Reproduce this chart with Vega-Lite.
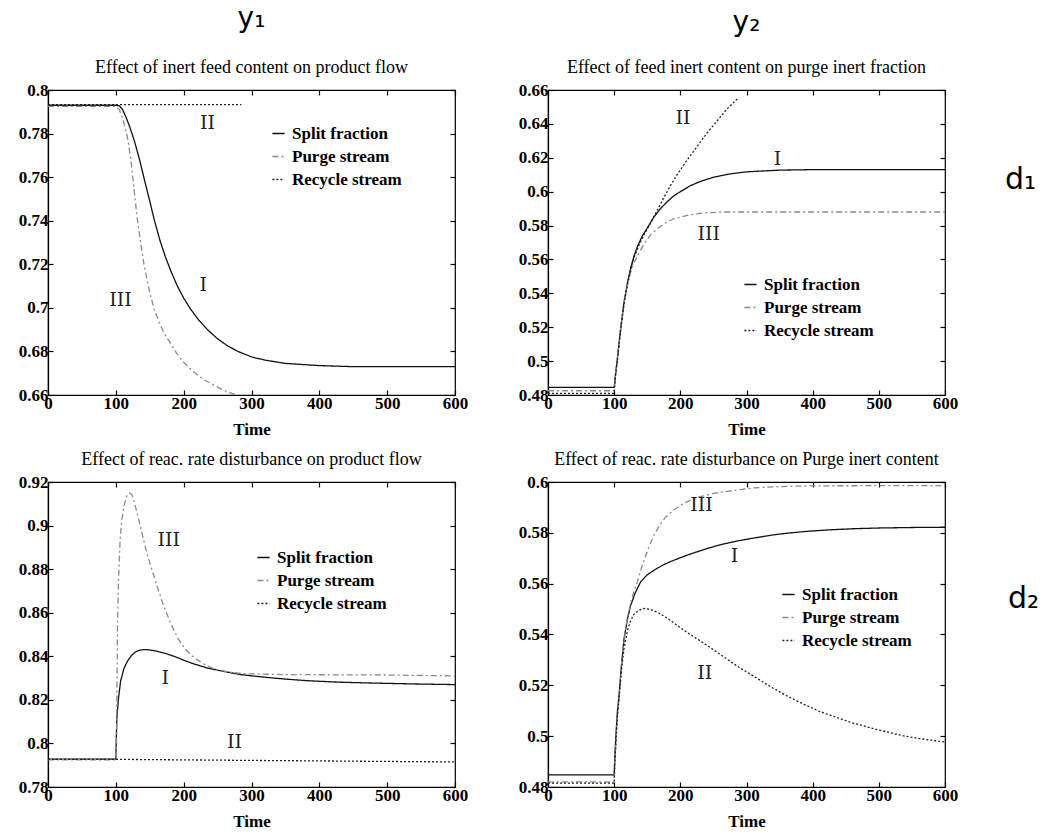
{
  "$schema": "https://vega.github.io/schema/vega-lite/v6.json",
  "background": "white",
  "padding": {"left": 17, "top": 4, "right": 5, "bottom": 5},
  "datasets": {
    "curves": [
      {"panel":"a","series":"Split fraction","t":0,"v":0.793},{"panel":"a","series":"Split fraction","t":100,"v":0.793},{"panel":"a","series":"Split fraction","t":105,"v":0.7928},{"panel":"a","series":"Split fraction","t":110,"v":0.791},{"panel":"a","series":"Split fraction","t":115,"v":0.7875},{"panel":"a","series":"Split fraction","t":120,"v":0.7835},{"panel":"a","series":"Split fraction","t":127,"v":0.777},{"panel":"a","series":"Split fraction","t":135,"v":0.768},{"panel":"a","series":"Split fraction","t":142,"v":0.759},{"panel":"a","series":"Split fraction","t":150,"v":0.749},{"panel":"a","series":"Split fraction","t":157,"v":0.74},{"panel":"a","series":"Split fraction","t":165,"v":0.731},{"panel":"a","series":"Split fraction","t":173,"v":0.7235},{"panel":"a","series":"Split fraction","t":181,"v":0.717},{"panel":"a","series":"Split fraction","t":190,"v":0.7105},{"panel":"a","series":"Split fraction","t":200,"v":0.7045},{"panel":"a","series":"Split fraction","t":210,"v":0.6995},{"panel":"a","series":"Split fraction","t":222,"v":0.6945},{"panel":"a","series":"Split fraction","t":235,"v":0.69},{"panel":"a","series":"Split fraction","t":250,"v":0.6858},{"panel":"a","series":"Split fraction","t":265,"v":0.6825},{"panel":"a","series":"Split fraction","t":280,"v":0.68},{"panel":"a","series":"Split fraction","t":300,"v":0.6775},{"panel":"a","series":"Split fraction","t":320,"v":0.676},{"panel":"a","series":"Split fraction","t":350,"v":0.6745},{"panel":"a","series":"Split fraction","t":400,"v":0.6735},{"panel":"a","series":"Split fraction","t":450,"v":0.673},{"panel":"a","series":"Split fraction","t":600,"v":0.673},
      {"panel":"a","series":"Purge stream","t":0,"v":0.7925},{"panel":"a","series":"Purge stream","t":100,"v":0.7925},{"panel":"a","series":"Purge stream","t":105,"v":0.791},{"panel":"a","series":"Purge stream","t":110,"v":0.787},{"panel":"a","series":"Purge stream","t":115,"v":0.781},{"panel":"a","series":"Purge stream","t":118,"v":0.777},{"panel":"a","series":"Purge stream","t":122,"v":0.768},{"panel":"a","series":"Purge stream","t":125,"v":0.76},{"panel":"a","series":"Purge stream","t":128,"v":0.751},{"panel":"a","series":"Purge stream","t":132,"v":0.74},{"panel":"a","series":"Purge stream","t":137,"v":0.729},{"panel":"a","series":"Purge stream","t":142,"v":0.719},{"panel":"a","series":"Purge stream","t":150,"v":0.707},{"panel":"a","series":"Purge stream","t":157,"v":0.699},{"panel":"a","series":"Purge stream","t":165,"v":0.6925},{"panel":"a","series":"Purge stream","t":172,"v":0.688},{"panel":"a","series":"Purge stream","t":180,"v":0.684},{"panel":"a","series":"Purge stream","t":190,"v":0.679},{"panel":"a","series":"Purge stream","t":200,"v":0.675},{"panel":"a","series":"Purge stream","t":215,"v":0.6705},{"panel":"a","series":"Purge stream","t":230,"v":0.667},{"panel":"a","series":"Purge stream","t":245,"v":0.6645},{"panel":"a","series":"Purge stream","t":260,"v":0.662},{"panel":"a","series":"Purge stream","t":275,"v":0.6603},{"panel":"a","series":"Purge stream","t":290,"v":0.659},{"panel":"a","series":"Purge stream","t":310,"v":0.658},
      {"panel":"a","series":"Recycle stream","t":0,"v":0.7933},{"panel":"a","series":"Recycle stream","t":285,"v":0.7933},
      {"panel":"b","series":"Split fraction","t":0,"v":0.4845},{"panel":"b","series":"Split fraction","t":100,"v":0.4845},{"panel":"b","series":"Split fraction","t":102,"v":0.492},{"panel":"b","series":"Split fraction","t":105,"v":0.502},{"panel":"b","series":"Split fraction","t":110,"v":0.52},{"panel":"b","series":"Split fraction","t":115,"v":0.535},{"panel":"b","series":"Split fraction","t":120,"v":0.546},{"panel":"b","series":"Split fraction","t":125,"v":0.555},{"panel":"b","series":"Split fraction","t":130,"v":0.562},{"panel":"b","series":"Split fraction","t":135,"v":0.5675},{"panel":"b","series":"Split fraction","t":142,"v":0.5735},{"panel":"b","series":"Split fraction","t":150,"v":0.5785},{"panel":"b","series":"Split fraction","t":160,"v":0.585},{"panel":"b","series":"Split fraction","t":170,"v":0.59},{"panel":"b","series":"Split fraction","t":180,"v":0.594},{"panel":"b","series":"Split fraction","t":190,"v":0.5975},{"panel":"b","series":"Split fraction","t":200,"v":0.6},{"panel":"b","series":"Split fraction","t":215,"v":0.6035},{"panel":"b","series":"Split fraction","t":230,"v":0.606},{"panel":"b","series":"Split fraction","t":250,"v":0.6085},{"panel":"b","series":"Split fraction","t":275,"v":0.6105},{"panel":"b","series":"Split fraction","t":300,"v":0.6117},{"panel":"b","series":"Split fraction","t":350,"v":0.6127},{"panel":"b","series":"Split fraction","t":400,"v":0.613},{"panel":"b","series":"Split fraction","t":600,"v":0.613},
      {"panel":"b","series":"Purge stream","t":0,"v":0.4825},{"panel":"b","series":"Purge stream","t":100,"v":0.4825},{"panel":"b","series":"Purge stream","t":102,"v":0.492},{"panel":"b","series":"Purge stream","t":105,"v":0.502},{"panel":"b","series":"Purge stream","t":110,"v":0.52},{"panel":"b","series":"Purge stream","t":115,"v":0.535},{"panel":"b","series":"Purge stream","t":120,"v":0.545},{"panel":"b","series":"Purge stream","t":125,"v":0.5525},{"panel":"b","series":"Purge stream","t":130,"v":0.558},{"panel":"b","series":"Purge stream","t":137,"v":0.5635},{"panel":"b","series":"Purge stream","t":145,"v":0.569},{"panel":"b","series":"Purge stream","t":155,"v":0.5745},{"panel":"b","series":"Purge stream","t":165,"v":0.578},{"panel":"b","series":"Purge stream","t":175,"v":0.581},{"panel":"b","series":"Purge stream","t":190,"v":0.584},{"panel":"b","series":"Purge stream","t":210,"v":0.586},{"panel":"b","series":"Purge stream","t":235,"v":0.5875},{"panel":"b","series":"Purge stream","t":270,"v":0.588},{"panel":"b","series":"Purge stream","t":600,"v":0.588},
      {"panel":"b","series":"Recycle stream","t":0,"v":0.481},{"panel":"b","series":"Recycle stream","t":100,"v":0.481},{"panel":"b","series":"Recycle stream","t":102,"v":0.491},{"panel":"b","series":"Recycle stream","t":105,"v":0.501},{"panel":"b","series":"Recycle stream","t":110,"v":0.519},{"panel":"b","series":"Recycle stream","t":115,"v":0.534},{"panel":"b","series":"Recycle stream","t":120,"v":0.545},{"panel":"b","series":"Recycle stream","t":125,"v":0.554},{"panel":"b","series":"Recycle stream","t":130,"v":0.561},{"panel":"b","series":"Recycle stream","t":137,"v":0.568},{"panel":"b","series":"Recycle stream","t":145,"v":0.5745},{"panel":"b","series":"Recycle stream","t":155,"v":0.5815},{"panel":"b","series":"Recycle stream","t":165,"v":0.589},{"panel":"b","series":"Recycle stream","t":175,"v":0.5965},{"panel":"b","series":"Recycle stream","t":185,"v":0.6035},{"panel":"b","series":"Recycle stream","t":195,"v":0.61},{"panel":"b","series":"Recycle stream","t":210,"v":0.6185},{"panel":"b","series":"Recycle stream","t":225,"v":0.6265},{"panel":"b","series":"Recycle stream","t":240,"v":0.6345},{"panel":"b","series":"Recycle stream","t":255,"v":0.6415},{"panel":"b","series":"Recycle stream","t":270,"v":0.6485},{"panel":"b","series":"Recycle stream","t":288,"v":0.6555},
      {"panel":"c","series":"Split fraction","t":0,"v":0.7928},{"panel":"c","series":"Split fraction","t":100,"v":0.7928},{"panel":"c","series":"Split fraction","t":100.5,"v":0.8},{"panel":"c","series":"Split fraction","t":101.5,"v":0.8116},{"panel":"c","series":"Split fraction","t":104,"v":0.821},{"panel":"c","series":"Split fraction","t":107,"v":0.8285},{"panel":"c","series":"Split fraction","t":112,"v":0.8345},{"panel":"c","series":"Split fraction","t":117,"v":0.8377},{"panel":"c","series":"Split fraction","t":123,"v":0.8403},{"panel":"c","series":"Split fraction","t":129,"v":0.842},{"panel":"c","series":"Split fraction","t":135,"v":0.8428},{"panel":"c","series":"Split fraction","t":142,"v":0.8431},{"panel":"c","series":"Split fraction","t":150,"v":0.8429},{"panel":"c","series":"Split fraction","t":161,"v":0.8423},{"panel":"c","series":"Split fraction","t":173,"v":0.8413},{"panel":"c","series":"Split fraction","t":186,"v":0.84},{"panel":"c","series":"Split fraction","t":200,"v":0.8382},{"panel":"c","series":"Split fraction","t":215,"v":0.8365},{"panel":"c","series":"Split fraction","t":235,"v":0.8346},{"panel":"c","series":"Split fraction","t":260,"v":0.833},{"panel":"c","series":"Split fraction","t":284,"v":0.8316},{"panel":"c","series":"Split fraction","t":310,"v":0.8307},{"panel":"c","series":"Split fraction","t":333,"v":0.83},{"panel":"c","series":"Split fraction","t":360,"v":0.8293},{"panel":"c","series":"Split fraction","t":382,"v":0.8288},{"panel":"c","series":"Split fraction","t":430,"v":0.8281},{"panel":"c","series":"Split fraction","t":480,"v":0.8277},{"panel":"c","series":"Split fraction","t":540,"v":0.8273},{"panel":"c","series":"Split fraction","t":600,"v":0.827},
      {"panel":"c","series":"Purge stream","t":0,"v":0.7925},{"panel":"c","series":"Purge stream","t":100,"v":0.7925},{"panel":"c","series":"Purge stream","t":101,"v":0.8},{"panel":"c","series":"Purge stream","t":102.5,"v":0.8555},{"panel":"c","series":"Purge stream","t":104,"v":0.876},{"panel":"c","series":"Purge stream","t":106.4,"v":0.894},{"panel":"c","series":"Purge stream","t":109,"v":0.903},{"panel":"c","series":"Purge stream","t":112,"v":0.909},{"panel":"c","series":"Purge stream","t":116,"v":0.9135},{"panel":"c","series":"Purge stream","t":120,"v":0.915},{"panel":"c","series":"Purge stream","t":124,"v":0.914},{"panel":"c","series":"Purge stream","t":127,"v":0.911},{"panel":"c","series":"Purge stream","t":132,"v":0.905},{"panel":"c","series":"Purge stream","t":137,"v":0.8985},{"panel":"c","series":"Purge stream","t":142,"v":0.892},{"panel":"c","series":"Purge stream","t":147,"v":0.886},{"panel":"c","series":"Purge stream","t":154,"v":0.879},{"panel":"c","series":"Purge stream","t":161,"v":0.872},{"panel":"c","series":"Purge stream","t":170,"v":0.8635},{"panel":"c","series":"Purge stream","t":181,"v":0.855},{"panel":"c","series":"Purge stream","t":192,"v":0.848},{"panel":"c","series":"Purge stream","t":202,"v":0.8435},{"panel":"c","series":"Purge stream","t":211,"v":0.8405},{"panel":"c","series":"Purge stream","t":222,"v":0.838},{"panel":"c","series":"Purge stream","t":235,"v":0.8355},{"panel":"c","series":"Purge stream","t":250,"v":0.8338},{"panel":"c","series":"Purge stream","t":270,"v":0.8326},{"panel":"c","series":"Purge stream","t":290,"v":0.832},{"panel":"c","series":"Purge stream","t":350,"v":0.8316},{"panel":"c","series":"Purge stream","t":500,"v":0.8314},{"panel":"c","series":"Purge stream","t":600,"v":0.831},
      {"panel":"c","series":"Recycle stream","t":0,"v":0.7927},{"panel":"c","series":"Recycle stream","t":100,"v":0.7927},{"panel":"c","series":"Recycle stream","t":300,"v":0.7922},{"panel":"c","series":"Recycle stream","t":600,"v":0.7915},
      {"panel":"d","series":"Split fraction","t":0,"v":0.4848},{"panel":"d","series":"Split fraction","t":100,"v":0.4848},{"panel":"d","series":"Split fraction","t":101,"v":0.492},{"panel":"d","series":"Split fraction","t":103,"v":0.502},{"panel":"d","series":"Split fraction","t":105,"v":0.51},{"panel":"d","series":"Split fraction","t":107.5,"v":0.5164},{"panel":"d","series":"Split fraction","t":111,"v":0.528},{"panel":"d","series":"Split fraction","t":115,"v":0.5385},{"panel":"d","series":"Split fraction","t":120,"v":0.546},{"panel":"d","series":"Split fraction","t":125,"v":0.5515},{"panel":"d","series":"Split fraction","t":132,"v":0.5565},{"panel":"d","series":"Split fraction","t":140,"v":0.5607},{"panel":"d","series":"Split fraction","t":150,"v":0.5635},{"panel":"d","series":"Split fraction","t":164,"v":0.5659},{"panel":"d","series":"Split fraction","t":175,"v":0.5675},{"panel":"d","series":"Split fraction","t":189,"v":0.5691},{"panel":"d","series":"Split fraction","t":210,"v":0.5712},{"panel":"d","series":"Split fraction","t":239,"v":0.5737},{"panel":"d","series":"Split fraction","t":260,"v":0.5753},{"panel":"d","series":"Split fraction","t":288,"v":0.5769},{"panel":"d","series":"Split fraction","t":310,"v":0.5779},{"panel":"d","series":"Split fraction","t":338,"v":0.5791},{"panel":"d","series":"Split fraction","t":360,"v":0.5798},{"panel":"d","series":"Split fraction","t":387,"v":0.5805},{"panel":"d","series":"Split fraction","t":420,"v":0.5811},{"panel":"d","series":"Split fraction","t":460,"v":0.5816},{"panel":"d","series":"Split fraction","t":500,"v":0.5819},{"panel":"d","series":"Split fraction","t":550,"v":0.5821},{"panel":"d","series":"Split fraction","t":600,"v":0.5822},
      {"panel":"d","series":"Purge stream","t":0,"v":0.482},{"panel":"d","series":"Purge stream","t":100,"v":0.482},{"panel":"d","series":"Purge stream","t":101,"v":0.49},{"panel":"d","series":"Purge stream","t":103,"v":0.5},{"panel":"d","series":"Purge stream","t":105,"v":0.509},{"panel":"d","series":"Purge stream","t":107.5,"v":0.516},{"panel":"d","series":"Purge stream","t":111,"v":0.528},{"panel":"d","series":"Purge stream","t":115,"v":0.538},{"panel":"d","series":"Purge stream","t":120,"v":0.5465},{"panel":"d","series":"Purge stream","t":125,"v":0.5525},{"panel":"d","series":"Purge stream","t":130,"v":0.557},{"panel":"d","series":"Purge stream","t":135,"v":0.5607},{"panel":"d","series":"Purge stream","t":141,"v":0.566},{"panel":"d","series":"Purge stream","t":147,"v":0.5705},{"panel":"d","series":"Purge stream","t":154,"v":0.5755},{"panel":"d","series":"Purge stream","t":162,"v":0.58},{"panel":"d","series":"Purge stream","t":170,"v":0.5835},{"panel":"d","series":"Purge stream","t":177,"v":0.586},{"panel":"d","series":"Purge stream","t":190,"v":0.589},{"panel":"d","series":"Purge stream","t":200,"v":0.5908},{"panel":"d","series":"Purge stream","t":212,"v":0.5925},{"panel":"d","series":"Purge stream","t":230,"v":0.5942},{"panel":"d","series":"Purge stream","t":250,"v":0.5955},{"panel":"d","series":"Purge stream","t":262,"v":0.596},{"panel":"d","series":"Purge stream","t":290,"v":0.597},{"panel":"d","series":"Purge stream","t":312,"v":0.5977},{"panel":"d","series":"Purge stream","t":350,"v":0.5982},{"panel":"d","series":"Purge stream","t":400,"v":0.5985},{"panel":"d","series":"Purge stream","t":600,"v":0.5986},
      {"panel":"d","series":"Recycle stream","t":0,"v":0.4815},{"panel":"d","series":"Recycle stream","t":100,"v":0.4815},{"panel":"d","series":"Recycle stream","t":101,"v":0.489},{"panel":"d","series":"Recycle stream","t":103,"v":0.499},{"panel":"d","series":"Recycle stream","t":105,"v":0.508},{"panel":"d","series":"Recycle stream","t":107.5,"v":0.515},{"panel":"d","series":"Recycle stream","t":111,"v":0.526},{"panel":"d","series":"Recycle stream","t":115,"v":0.5345},{"panel":"d","series":"Recycle stream","t":120,"v":0.5415},{"panel":"d","series":"Recycle stream","t":125,"v":0.5455},{"panel":"d","series":"Recycle stream","t":130,"v":0.548},{"panel":"d","series":"Recycle stream","t":137,"v":0.5495},{"panel":"d","series":"Recycle stream","t":146,"v":0.5503},{"panel":"d","series":"Recycle stream","t":155,"v":0.5498},{"panel":"d","series":"Recycle stream","t":165,"v":0.5488},{"panel":"d","series":"Recycle stream","t":177,"v":0.547},{"panel":"d","series":"Recycle stream","t":189,"v":0.5448},{"panel":"d","series":"Recycle stream","t":210,"v":0.5408},{"panel":"d","series":"Recycle stream","t":239,"v":0.536},{"panel":"d","series":"Recycle stream","t":260,"v":0.5322},{"panel":"d","series":"Recycle stream","t":288,"v":0.5272},{"panel":"d","series":"Recycle stream","t":310,"v":0.5237},{"panel":"d","series":"Recycle stream","t":338,"v":0.5192},{"panel":"d","series":"Recycle stream","t":360,"v":0.516},{"panel":"d","series":"Recycle stream","t":387,"v":0.5125},{"panel":"d","series":"Recycle stream","t":410,"v":0.5098},{"panel":"d","series":"Recycle stream","t":437,"v":0.5073},{"panel":"d","series":"Recycle stream","t":460,"v":0.5052},{"panel":"d","series":"Recycle stream","t":486,"v":0.5034},{"panel":"d","series":"Recycle stream","t":510,"v":0.5018},{"panel":"d","series":"Recycle stream","t":536,"v":0.5002},{"panel":"d","series":"Recycle stream","t":560,"v":0.4991},{"panel":"d","series":"Recycle stream","t":585,"v":0.4982},{"panel":"d","series":"Recycle stream","t":600,"v":0.4977}
    ],
    "notes": [
      {"panel":"a","label":"II","t":235,"v":0.785},{"panel":"a","label":"I","t":229,"v":0.7105},{"panel":"a","label":"III","t":107,"v":0.7037},
      {"panel":"b","label":"II","t":204,"v":0.6435},{"panel":"b","label":"I","t":347,"v":0.619},{"panel":"b","label":"III","t":243,"v":0.575},
      {"panel":"c","label":"III","t":178,"v":0.8934},{"panel":"c","label":"I","t":173,"v":0.83},{"panel":"c","label":"II","t":275,"v":0.8005},
      {"panel":"d","label":"III","t":232,"v":0.5909},{"panel":"d","label":"I","t":282,"v":0.5707},{"panel":"d","label":"II","t":237,"v":0.5248}
    ]
  },
  "config": {
    "font": "Liberation Serif",
    "view": {"stroke": "black", "strokeWidth": 1.2},
    "axis": {
      "grid": false,
      "labelFont": "Liberation Serif", "labelFontSize": 17, "labelFontWeight": "bold", "labelColor": "black",
      "labelFlush": false, "labelOverlap": false, "labelPadding": 5,
      "tickColor": "black", "tickSize": -5, "tickWidth": 1.2,
      "domainColor": "black", "domainWidth": 1.2,
      "titleFont": "Liberation Serif", "titleFontSize": 17, "titleFontWeight": "bold", "titleColor": "black", "titlePadding": 10
    },
    "legend": {
      "title": null, "orient": "none", "padding": 0,
      "labelFont": "Liberation Serif", "labelFontSize": 17, "labelFontWeight": "bold", "labelColor": "black",
      "symbolType": "stroke", "symbolSize": 150, "symbolStrokeWidth": 1.4, "rowPadding": 5, "labelOffset": 5
    },
    "title": {"color": "black", "subtitleColor": "black", "anchor": "middle", "offset": 4}
  },
  "resolve": {"scale": {"color": "independent", "strokeDash": "independent"}, "legend": {"color": "independent", "strokeDash": "independent"}},
  "spacing": 12,
  "vconcat": [
    {
      "resolve": {"scale": {"color": "independent", "strokeDash": "independent"}, "legend": {"color": "independent", "strokeDash": "independent"}},
      "spacing": 48,
      "hconcat": [
        {
          "width": 407, "height": 305,
          "title": {"text": "y₁", "subtitle": "Effect of inert feed content on product flow", "font": "DejaVu Sans", "fontSize": 28, "fontWeight": "normal", "subtitleFont": "Liberation Serif", "subtitleFontSize": 18, "subtitlePadding": 26},
          "layer": [
            {
              "data": {"name": "curves"},
              "transform": [{"filter": "datum.panel === 'a'"}],
              "mark": {"type": "line", "clip": true, "strokeWidth": 1.3},
              "encoding": {
                "x": {"field": "t", "type": "quantitative", "scale": {"domain": [0, 600], "nice": false}, "axis": {"orient": "bottom", "title": "Time", "values": [0,100,200,300,400,500,600]}},
                "y": {"field": "v", "type": "quantitative", "scale": {"domain": [0.66, 0.8], "nice": false, "zero": false}, "axis": {"orient": "left", "title": null, "format": ".2~f", "values": [0.66,0.68,0.7,0.72,0.74,0.76,0.78,0.8]}},
                "color": {"field": "series", "type": "nominal", "scale": {"domain": ["Split fraction","Purge stream","Recycle stream"], "range": ["#111111","#8a8a8a","#222222"]}, "legend": {"legendX": 222, "legendY": 35}},
                "strokeDash": {"field": "series", "type": "nominal", "scale": {"domain": ["Split fraction","Purge stream","Recycle stream"], "range": [[1,0],[6,3,2,3],[2,2]]}, "legend": {"legendX": 222, "legendY": 35}}
              }
            },
            {
              "data": {"name": "notes"},
              "transform": [{"filter": "datum.panel === 'a'"}],
              "mark": {"type": "text", "font": "DejaVu Serif", "fontSize": 19, "color": "#222"},
              "encoding": {
                "x": {"field": "t", "type": "quantitative", "scale": {"domain": [0, 600], "nice": false}, "axis": {"orient": "top", "title": null, "labels": false, "domain": false, "values": [0,100,200,300,400,500,600]}},
                "y": {"field": "v", "type": "quantitative", "scale": {"domain": [0.66, 0.8], "nice": false, "zero": false}, "axis": {"orient": "right", "title": null, "labels": false, "domain": false, "values": [0.66,0.68,0.7,0.72,0.74,0.76,0.78,0.8]}},
                "text": {"field": "label", "type": "nominal"}
              }
            }
          ]
        },
        {
          "width": 397, "height": 305,
          "title": {"text": "y₂", "subtitle": "Effect of feed inert content on purge inert fraction", "font": "DejaVu Sans", "fontSize": 28, "fontWeight": "normal", "subtitleFont": "Liberation Serif", "subtitleFontSize": 18, "subtitlePadding": 22},
          "layer": [
            {
              "data": {"name": "curves"},
              "transform": [{"filter": "datum.panel === 'b'"}],
              "mark": {"type": "line", "clip": true, "strokeWidth": 1.3},
              "encoding": {
                "x": {"field": "t", "type": "quantitative", "scale": {"domain": [0, 600], "nice": false}, "axis": {"orient": "bottom", "title": "Time", "values": [0,100,200,300,400,500,600]}},
                "y": {"field": "v", "type": "quantitative", "scale": {"domain": [0.48, 0.66], "nice": false, "zero": false}, "axis": {"orient": "left", "title": null, "format": ".2~f", "values": [0.48,0.5,0.52,0.54,0.56,0.58,0.6,0.62,0.64,0.66]}},
                "color": {"field": "series", "type": "nominal", "scale": {"domain": ["Split fraction","Purge stream","Recycle stream"], "range": ["#111111","#8a8a8a","#222222"]}, "legend": {"legendX": 194, "legendY": 186}},
                "strokeDash": {"field": "series", "type": "nominal", "scale": {"domain": ["Split fraction","Purge stream","Recycle stream"], "range": [[1,0],[6,3,2,3],[2,2]]}, "legend": {"legendX": 194, "legendY": 186}}
              }
            },
            {
              "data": {"name": "notes"},
              "transform": [{"filter": "datum.panel === 'b'"}],
              "mark": {"type": "text", "font": "DejaVu Serif", "fontSize": 19, "color": "#222"},
              "encoding": {
                "x": {"field": "t", "type": "quantitative", "scale": {"domain": [0, 600], "nice": false}, "axis": {"orient": "top", "title": null, "labels": false, "domain": false, "values": [0,100,200,300,400,500,600]}},
                "y": {"field": "v", "type": "quantitative", "scale": {"domain": [0.48, 0.66], "nice": false, "zero": false}, "axis": {"orient": "right", "labels": false, "domain": false, "values": [0.48,0.5,0.52,0.54,0.56,0.58,0.6,0.62,0.64,0.66], "title": "d₁", "titleAngle": 0, "titleFont": "DejaVu Sans", "titleFontSize": 30, "titleFontWeight": "normal", "titleAlign": "center", "titleBaseline": "middle", "titleX": 75, "titleY": 89}},
                "text": {"field": "label", "type": "nominal"}
              }
            }
          ]
        }
      ]
    },
    {
      "resolve": {"scale": {"color": "independent", "strokeDash": "independent"}, "legend": {"color": "independent", "strokeDash": "independent"}},
      "spacing": 48,
      "hconcat": [
        {
          "width": 407, "height": 305,
          "title": {"text": "Effect of reac. rate disturbance on product flow", "font": "Liberation Serif", "fontSize": 18, "fontWeight": "normal"},
          "layer": [
            {
              "data": {"name": "curves"},
              "transform": [{"filter": "datum.panel === 'c'"}],
              "mark": {"type": "line", "clip": true, "strokeWidth": 1.3},
              "encoding": {
                "x": {"field": "t", "type": "quantitative", "scale": {"domain": [0, 600], "nice": false}, "axis": {"orient": "bottom", "title": "Time", "values": [0,100,200,300,400,500,600]}},
                "y": {"field": "v", "type": "quantitative", "scale": {"domain": [0.78, 0.92], "nice": false, "zero": false}, "axis": {"orient": "left", "title": null, "format": ".2~f", "values": [0.78,0.8,0.82,0.84,0.86,0.88,0.9,0.92]}},
                "color": {"field": "series", "type": "nominal", "scale": {"domain": ["Split fraction","Purge stream","Recycle stream"], "range": ["#111111","#8a8a8a","#222222"]}, "legend": {"legendX": 207, "legendY": 67}},
                "strokeDash": {"field": "series", "type": "nominal", "scale": {"domain": ["Split fraction","Purge stream","Recycle stream"], "range": [[1,0],[6,3,2,3],[2,2]]}, "legend": {"legendX": 207, "legendY": 67}}
              }
            },
            {
              "data": {"name": "notes"},
              "transform": [{"filter": "datum.panel === 'c'"}],
              "mark": {"type": "text", "font": "DejaVu Serif", "fontSize": 19, "color": "#222"},
              "encoding": {
                "x": {"field": "t", "type": "quantitative", "scale": {"domain": [0, 600], "nice": false}, "axis": {"orient": "top", "title": null, "labels": false, "domain": false, "values": [0,100,200,300,400,500,600]}},
                "y": {"field": "v", "type": "quantitative", "scale": {"domain": [0.78, 0.92], "nice": false, "zero": false}, "axis": {"orient": "right", "title": null, "labels": false, "domain": false, "values": [0.78,0.8,0.82,0.84,0.86,0.88,0.9,0.92]}},
                "text": {"field": "label", "type": "nominal"}
              }
            }
          ]
        },
        {
          "width": 397, "height": 305,
          "title": {"text": "Effect of reac. rate disturbance on Purge inert content", "font": "Liberation Serif", "fontSize": 18, "fontWeight": "normal"},
          "layer": [
            {
              "data": {"name": "curves"},
              "transform": [{"filter": "datum.panel === 'd'"}],
              "mark": {"type": "line", "clip": true, "strokeWidth": 1.3},
              "encoding": {
                "x": {"field": "t", "type": "quantitative", "scale": {"domain": [0, 600], "nice": false}, "axis": {"orient": "bottom", "title": "Time", "values": [0,100,200,300,400,500,600]}},
                "y": {"field": "v", "type": "quantitative", "scale": {"domain": [0.48, 0.6], "nice": false, "zero": false}, "axis": {"orient": "left", "title": null, "format": ".2~f", "values": [0.48,0.5,0.52,0.54,0.56,0.58,0.6]}},
                "color": {"field": "series", "type": "nominal", "scale": {"domain": ["Split fraction","Purge stream","Recycle stream"], "range": ["#111111","#8a8a8a","#222222"]}, "legend": {"legendX": 232, "legendY": 104}},
                "strokeDash": {"field": "series", "type": "nominal", "scale": {"domain": ["Split fraction","Purge stream","Recycle stream"], "range": [[1,0],[6,3,2,3],[2,2]]}, "legend": {"legendX": 232, "legendY": 104}}
              }
            },
            {
              "data": {"name": "notes"},
              "transform": [{"filter": "datum.panel === 'd'"}],
              "mark": {"type": "text", "font": "DejaVu Serif", "fontSize": 19, "color": "#222"},
              "encoding": {
                "x": {"field": "t", "type": "quantitative", "scale": {"domain": [0, 600], "nice": false}, "axis": {"orient": "top", "title": null, "labels": false, "domain": false, "values": [0,100,200,300,400,500,600]}},
                "y": {"field": "v", "type": "quantitative", "scale": {"domain": [0.48, 0.6], "nice": false, "zero": false}, "axis": {"orient": "right", "labels": false, "domain": false, "values": [0.48,0.5,0.52,0.54,0.56,0.58,0.6], "title": "d₂", "titleAngle": 0, "titleFont": "DejaVu Sans", "titleFontSize": 30, "titleFontWeight": "normal", "titleAlign": "center", "titleBaseline": "middle", "titleX": 78, "titleY": 116}},
                "text": {"field": "label", "type": "nominal"}
              }
            }
          ]
        }
      ]
    }
  ]
}
